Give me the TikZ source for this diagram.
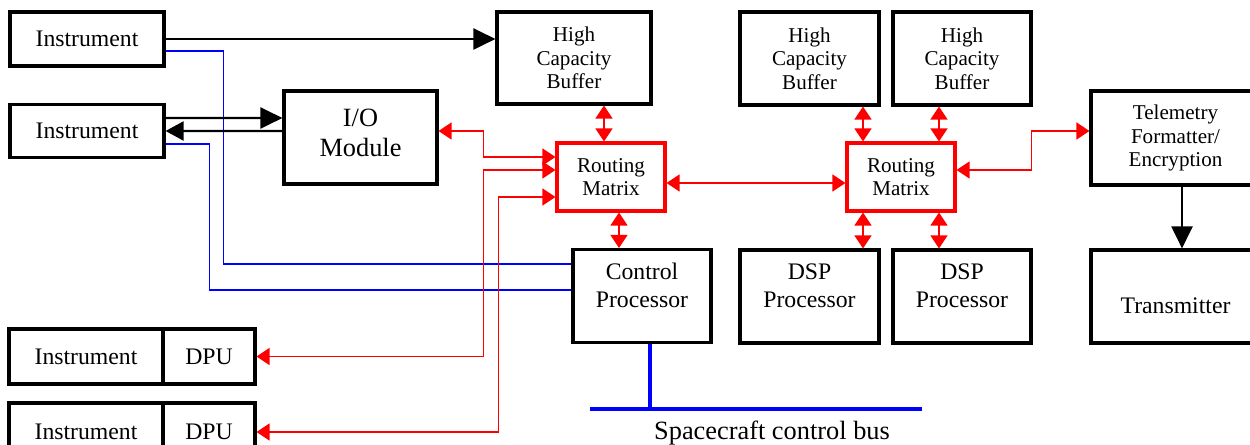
\documentclass[tikz,border=0pt]{standalone}
\usepackage{fontspec}
\setmainfont{Liberation Serif}
\usepackage{tikz}
\usetikzlibrary{arrows.meta,positioning}

\begin{document}
\begin{tikzpicture}[x=0.02cm, y=-0.02cm,
    box/.style={draw, line width=1.8pt, align=center, inner sep=1pt, font=\fontsize{13.5}{15.8}\selectfont},
    small/.style={font=\fontsize{12}{13.4}\selectfont},
    rmat/.style={box, small, draw=red, minimum width=2.16cm, minimum height=1.36cm},
    blk/.style={-{Triangle[length=0.44cm,width=0.42cm]}, line width=1.2pt},
    rlink/.style={{Triangle[length=0.26cm,width=0.34cm]}-{Triangle[length=0.26cm,width=0.34cm]}, red, line width=0.9pt},
    wire/.style={blue, line width=0.85pt},
    busline/.style={blue, line width=1.8pt}]
    \clip (0,0) rectangle (1250,445);
    \node[box, minimum width=3.08cm, minimum height=1.08cm] (ins1) at (87,39) {Instrument};
    \node[box, minimum width=3.08cm, minimum height=1.06cm] (ins2) at (87,131) {Instrument};
    \node[box, font=\fontsize{15}{17}\selectfont, text depth=5.6pt, minimum width=3.06cm, minimum height=1.86cm] (io) at (360.5,137.5) {I/O\\Module};
    \node[box, small, minimum width=3.08cm, minimum height=1.84cm] (hcb1) at (574,58) {High\\Capacity\\Buffer};
    \node[rmat] (rm1) at (611,177) {Routing\\Matrix};
    \node[box, text depth=12pt, minimum width=2.76cm, minimum height=1.86cm] (cp) at (642,296) {Control\\Processor};
    \node[box, small, minimum width=2.78cm, minimum height=1.86cm] (hcb2) at (809.5,58.5) {High\\Capacity\\Buffer};
    \node[box, small, minimum width=2.76cm, minimum height=1.86cm] (hcb3) at (962,58.5) {High\\Capacity\\Buffer};
    \node[rmat] (rm2) at (901,177) {Routing\\Matrix};
    \node[box, small, minimum width=3.38cm, minimum height=1.88cm] (tel) at (1175.5,138) {Telemetry\\Formatter/\\Encryption};
    \node[box, text height=19pt, minimum width=3.38cm, minimum height=1.86cm] (tx) at (1175.5,296.5) {Transmitter};
    \node[box, text depth=12pt, minimum width=2.78cm, minimum height=1.86cm] (dsp1) at (809.5,296.5) {DSP\\Processor};
    \node[box, text depth=12pt, minimum width=2.76cm, minimum height=1.86cm] (dsp2) at (962,296.5) {DSP\\Processor};
    \node[box, minimum width=3.08cm, minimum height=1.10cm] (ins3) at (86,356.5) {Instrument};
    \node[box, minimum width=1.84cm, minimum height=1.10cm] (dpu3) at (209,356.5) {DPU};
    \node[box, minimum width=3.08cm, minimum height=1.16cm] (ins4) at (86,432) {Instrument};
    \node[box, minimum width=1.84cm, minimum height=1.16cm] (dpu4) at (209,432) {DPU};
    \coordinate (busl) at (590,409);
    \coordinate (busr) at (922,409);
    \coordinate (tap) at (650,409);
    \node[font=\fontsize{15}{17}\selectfont] (buslbl) at (772,433) {Spacecraft control bus};
    \draw[busline] (busl) -- (busr);
    \draw[busline] (cp.south -| tap) -- (tap);
    \draw[blk] (ins1.east) -- (hcb1.west |- ins1.east);
    \draw[wire] ([yshift=-0.24cm]ins1.east) -- ++(58,0) |- ([yshift=0.64cm]cp.west);
    \draw[wire] ([yshift=-0.26cm]ins2.east) -- ++(44,0) |- ([yshift=0.12cm]cp.west);
    \draw[blk] ([yshift=0.26cm]ins2.east) -- ([yshift=0.39cm]io.west);
    \draw[blk, -{Triangle[length=0.36cm,width=0.38cm]}] ([yshift=0.13cm]io.west) -- (ins2.east);
    \draw[rlink] ([yshift=0.13cm]io.east) -- ++(45,0) |- ([yshift=0.40cm]rm1.west);
    \draw[rlink] (dpu3.east) -- ++(227,0) |- ([yshift=0.14cm]rm1.west);
    \draw[rlink] (dpu4.east) -- ++(242,0) |- ([yshift=-0.40cm]rm1.west);
    \draw[rlink] ([xshift=0.60cm]hcb1.south) -- ([xshift=-0.14cm]rm1.north);
    \draw[rlink] ([xshift=0.16cm]rm1.south) -- ([xshift=-0.46cm]cp.north);
    \draw[rlink] ([yshift=-0.12cm]rm1.east) -- ([yshift=-0.12cm]rm2.west);
    \draw[rlink] ([xshift=1.07cm]hcb2.south) -- ([xshift=-0.76cm]rm2.north);
    \draw[rlink] ([xshift=-0.46cm]hcb3.south) -- ([xshift=0.76cm]rm2.north);
    \draw[rlink] ([xshift=-0.76cm]rm2.south) -- ([xshift=1.07cm]dsp1.north);
    \draw[rlink] ([xshift=0.76cm]rm2.south) -- ([xshift=-0.46cm]dsp2.north);
    \draw[rlink] ([yshift=0.14cm]rm2.east) -- ++(75,0) |- ([yshift=0.14cm]tel.west);
    \draw[blk] ([xshift=0.13cm]tel.south) -- ([xshift=0.13cm]tx.north);
  \end{tikzpicture}
\end{document}
